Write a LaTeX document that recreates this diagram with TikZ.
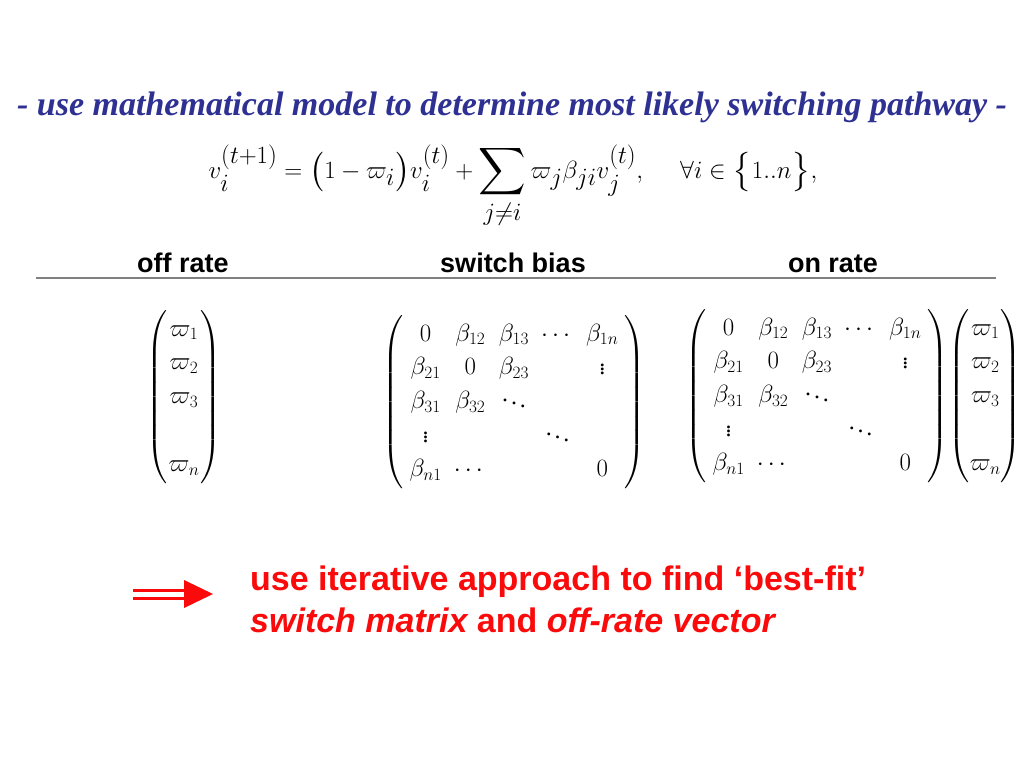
\documentclass[tikz,border=0pt]{standalone}
\usepackage{amssymb,amsmath}
\usepackage{fontspec}
\setmainfont{Liberation Serif}
\newfontfamily\headfont{Liberation Sans}
\usepackage{tikz}
\usetikzlibrary{shapes, arrows, positioning}
\definecolor{titleblue}{RGB}{46,49,146}
\definecolor{fitred}{RGB}{250,10,10}
\tikzstyle{titletext} = [inner sep=0, text=titleblue, font=\fontsize{34}{40}\selectfont\bfseries\itshape]
\tikzstyle{eqtext} = [inner sep=0, font=\fontsize{33}{40}\selectfont]
\tikzstyle{headtext} = [inner sep=0, font=\fontsize{27}{30}\selectfont\headfont\bfseries]
\tikzstyle{mattext} = [inner sep=0, font=\fontsize{24}{26}\selectfont]
\tikzstyle{fittext} = [inner sep=0, text=fitred, anchor=base west, font=\fontsize{34}{38}\selectfont\headfont\bfseries]

\begin{document}
\begin{tikzpicture}[x=1pt,y=-1pt]

\useasboundingbox (0,0) rectangle (1024,768);
\fill[white] (0,0) rectangle (1024,768);

%Title and model
\node[titletext, anchor=base] (title) at (512,115) {- use mathematical model to determine most likely switching pathway -};
\node[eqtext, anchor=base] (model) at (513,178) {$\displaystyle v_i^{(t+1)} = \bigl(1-\varpi_i\bigr)v_i^{(t)} + \sum_{j\neq i}\varpi_j\beta_{ji}v_j^{(t)},\quad \forall i\in\bigl\{1..n\bigr\},$};

%Column heads
\node[headtext, anchor=base] (offhead) at (183,272) {off rate};
\node[headtext, anchor=base] (biashead) at (513,272) {switch bias};
\node[headtext, anchor=base] (onhead) at (833,272) {on rate};
\draw[gray, line width=2] (36,278) -- (996,278);

%Matrices
\renewcommand{\arraystretch}{1.3}
\setlength{\arraycolsep}{6pt}
\node[mattext] (offvec) at (184,397) {$\left(\arraycolsep=1pt\begin{array}{c}
  \varpi_1\\ \varpi_2\\ \varpi_3\\ \\ \varpi_n
  \end{array}\right)$};
\node[mattext] (biasmat) at (514,402) {$\left(\begin{array}{ccccc}
  0 & \beta_{12} & \beta_{13} & \cdots & \beta_{1n}\\
  \beta_{21} & 0 & \beta_{23} & & \vdots\\
  \beta_{31} & \beta_{32} & \ddots & & \\
  \vdots & & & \ddots & \\
  \beta_{n1} & \cdots & & & 0
  \end{array}\right)$};
\node[mattext] (onmat) at (817,396) {$\left(\begin{array}{ccccc}
  0 & \beta_{12} & \beta_{13} & \cdots & \beta_{1n}\\
  \beta_{21} & 0 & \beta_{23} & & \vdots\\
  \beta_{31} & \beta_{32} & \ddots & & \\
  \vdots & & & \ddots & \\
  \beta_{n1} & \cdots & & & 0
  \end{array}\right)$};
\node[mattext, right=0pt of onmat] (onvec) {$\left(\arraycolsep=0pt\begin{array}{c}
  \varpi_1\\ \varpi_2\\ \varpi_3\\ \\ \varpi_n
  \end{array}\right)$};

%Arrow and conclusion
\coordinate (arrtail) at (133,594);
\coordinate (arrneck) at (186,594);
\coordinate (arrtip) at (213,594);
\draw[fitred, double=white, double distance=5, line width=3] (arrtail) -- (arrneck);
\fill[fitred] (184,580) -- (arrtip) -- (184,608) -- cycle;

\node[fittext] (fitA) at (250,590) {use iterative approach to find ‘best-fit’};
\node[fittext] (fitB) at (250,632) {\itshape switch matrix \upshape and \itshape off-rate vector};

\end{tikzpicture}
\end{document}
